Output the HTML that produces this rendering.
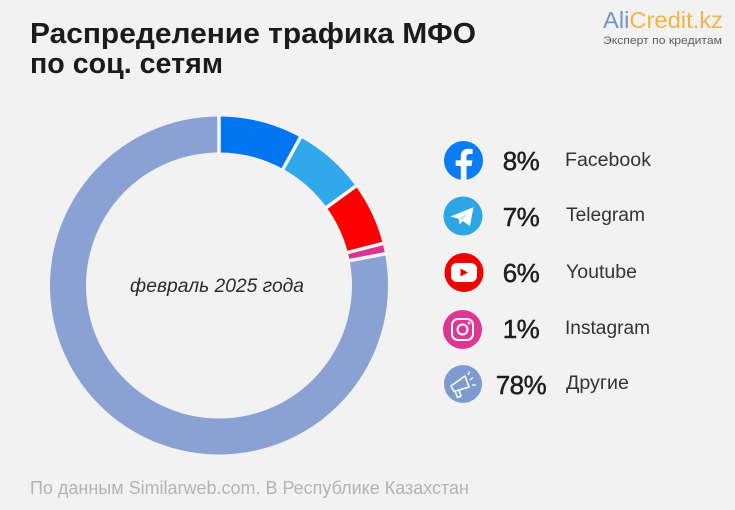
<!DOCTYPE html>
<html lang="ru">
<head>
<meta charset="utf-8">
<title>Распределение трафика МФО по соц. сетям</title>
<style>
html,body{margin:0;padding:0;background:#f2f2f2;}
svg{display:block;font-family:"Liberation Sans","Noto Sans CJK SC",sans-serif;}
</style>
</head>
<body>
<svg id="chart" width="735" height="510" viewBox="0 0 735 510" xmlns="http://www.w3.org/2000/svg">
  <rect width="735" height="510" fill="#f2f2f2"/>

  <g font-weight="700" font-size="29" fill="#1b1b1b">
    <text x="30" y="43" textLength="446" lengthAdjust="spacingAndGlyphs">Распределение трафика МФО</text>
    <text x="30" y="73" textLength="193" lengthAdjust="spacingAndGlyphs">по соц. сетям</text>
  </g>

  <g>
    <text x="603" y="28" font-size="23.5" textLength="120" lengthAdjust="spacingAndGlyphs"><tspan fill="#6f95cf">Ali</tspan><tspan fill="#f1b545">Credit.kz</tspan></text>
    <text x="603" y="44" font-size="11" fill="#5c5c5c" textLength="119" lengthAdjust="spacingAndGlyphs">Эксперт по кредитам</text>
  </g>

  <g id="donut"></g>
  <text x="217" y="292" text-anchor="middle" font-size="19.5" font-style="italic" fill="#2b2b2b" textLength="174" lengthAdjust="spacingAndGlyphs">февраль 2025 года</text>

  <g>
    <circle cx="463.5" cy="160.5" r="19.5" fill="#0a7cf5"/>
    <path d="M466.5 180v-14h5l.9-5.6h-5.900v-3.400c0-1.700.8-3 3.200-3h2.900v-4.900c-1.200-.2-2.800-.4-4.300-.4-4.500 0-7.500 2.700-7.500 7.600v4.100h-5.100v5.600h5.100v14z" fill="#fff"/>
  </g>
  <g>
    <circle cx="463" cy="216" r="19.500" fill="#2ea6e6"/>
    <path d="M450.500 216.500l23-9.300-3.600 18.800-7-5-3.400 3.400-.8-5.600z" fill="#fff"/>
    <path d="M459.500 219l9-7-6 8z" fill="#bfe3f6"/>
  </g>
  <g>
    <circle cx="464" cy="272.500" r="19.500" fill="#f40000"/>
    <rect x="451" y="263" width="26" height="19" rx="6" fill="#fff"/>
    <path d="M460.500 268.500l7.500 4-7.500 4z" fill="#e60000"/>
  </g>
  <g>
    <circle cx="462.500" cy="329.500" r="19.500" fill="#df3594"/>
    <rect x="452" y="319" width="21" height="21" rx="6" fill="none" stroke="#fff" stroke-width="2"/>
    <circle cx="462.500" cy="329.500" r="5" fill="none" stroke="#fff" stroke-width="2"/>
    <circle cx="469" cy="323" r="1.300" fill="#fff"/>
  </g>
  <g>
    <circle cx="463" cy="384" r="19" fill="#7e9bd0"/>
    <path d="M451 386l14-10 4 11-15 4.500z M455 391l2.500 6.500 3.500-1.500-2-6" fill="none" stroke="#fff" stroke-width="1.500" stroke-linejoin="round"/>
    <path d="M470 380l3-2.500M472 385h4M468 375l1.500-3.500" stroke="#fff" stroke-width="1.300" fill="none"/>
  </g>

  <g id="legend-values"></g>

  <g font-size="19" fill="#333">
    <text x="565" y="166" textLength="86" lengthAdjust="spacingAndGlyphs">Facebook</text>
    <text x="566" y="221" textLength="79" lengthAdjust="spacingAndGlyphs">Telegram</text>
    <text x="566" y="278" textLength="71" lengthAdjust="spacingAndGlyphs">Youtube</text>
    <text x="565" y="334" textLength="85" lengthAdjust="spacingAndGlyphs">Instagram</text>
    <text x="566" y="389" textLength="63" lengthAdjust="spacingAndGlyphs">Другие</text>
  </g>

  <text x="30" y="494" font-size="18" fill="#b4b4b4" textLength="439" lengthAdjust="spacingAndGlyphs">По данным Similarweb.com. В Республике Казахстан</text>
</svg>
<script>
var categories = ['Facebook', 'Telegram', 'Youtube', 'Instagram', 'Другие'];
var shares = [8, 7, 6, 1, 78];
var sliceColors = ['#0276f1', '#30a8ea', '#fe0000', '#dc3490', '#8aa1d4'];

var SVG_NS = 'http://www.w3.org/2000/svg';
var cx = 219, cy = 285.5, outerR = 169, innerR = 133;
var rowStartY = 170, rowStepY = 56;

function angleAt(cumulative, total) {
  return cumulative / total * 2 * Math.PI;
}
function polar(r, a) {
  return [cx + r * Math.sin(a), cy - r * Math.cos(a)];
}
function slicePath(a0, a1) {
  var large = a1 - a0 > Math.PI ? 1 : 0;
  var p0 = polar(outerR, a0), p1 = polar(outerR, a1), p2 = polar(innerR, a1), p3 = polar(innerR, a0);
  return 'M' + p0[0] + ' ' + p0[1] +
    'A' + outerR + ' ' + outerR + ' 0 ' + large + ' 1 ' + p1[0] + ' ' + p1[1] +
    'L' + p2[0] + ' ' + p2[1] +
    'A' + innerR + ' ' + innerR + ' 0 ' + large + ' 0 ' + p3[0] + ' ' + p3[1] + 'Z';
}

var donut = document.getElementById('donut');
var legendValues = document.getElementById('legend-values');
var total = shares.reduce(function (s, v) { return s + v; }, 0);
var running = 0;
shares.forEach(function (v, i) {
  var path = document.createElementNS(SVG_NS, 'path');
  path.setAttribute('d', slicePath(angleAt(running, total), angleAt(running + v, total)));
  path.setAttribute('fill', sliceColors[i]);
  
  
  donut.appendChild(path);
  running += v;

  var t = document.createElementNS(SVG_NS, 'text');
  t.setAttribute('x', 521);
  t.setAttribute('y', rowStartY + i * rowStepY);
  t.setAttribute('text-anchor', 'middle');
  t.setAttribute('font-size', '26');
  t.setAttribute('letter-spacing', '-0.5');
  t.setAttribute('fill', '#1f1f1f');
  t.setAttribute('stroke', '#1f1f1f');
  t.setAttribute('stroke-width', '0.5');
  
  
  t.textContent = v + '%';
  legendValues.appendChild(t);
});

running = 0;
shares.forEach(function (v, i) {
  var a = angleAt(running, total);
  var p0 = polar(innerR - 1, a), p1 = polar(outerR + 1, a);
  var sep = document.createElementNS(SVG_NS, 'line');
  sep.setAttribute('x1', p0[0]);
  sep.setAttribute('y1', p0[1]);
  sep.setAttribute('x2', p1[0]);
  sep.setAttribute('y2', p1[1]);
  sep.setAttribute('stroke', '#f6f6f6');
  sep.setAttribute('stroke-width', '3.5');
  
  
  donut.appendChild(sep);
  running += v;
});
</script>
</body>
</html>
